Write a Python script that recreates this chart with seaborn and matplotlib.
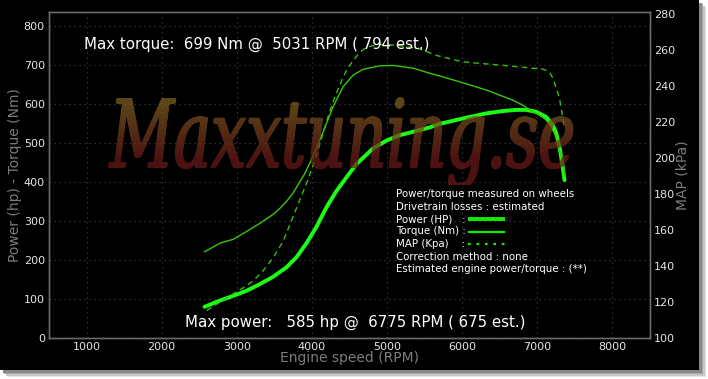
import numpy as np
import pandas as pd
import matplotlib
matplotlib.use("Agg")
import matplotlib.pyplot as plt
import seaborn as sns
from matplotlib.textpath import TextPath
from matplotlib.font_manager import FontProperties
from matplotlib.patches import PathPatch, Rectangle
from matplotlib.transforms import Affine2D
from matplotlib.path import Path

# ---------------- data ----------------
rpm_power = [2570, 2774, 2951, 3129, 3306, 3483, 3660, 3794, 3927, 4060, 4193, 4326,
             4460, 4592, 4813, 4990, 5168, 5390, 5566, 5699, 5965, 6320, 6541, 6719,
             6852, 6985, 7118, 7206, 7251, 7295, 7331, 7362]
power_hp = [80, 96, 108, 121, 138, 157, 181, 207, 243, 285, 335, 377,
            412, 446, 486, 506, 520, 531, 540, 549, 561, 576, 582, 585,
            585, 580, 567, 546, 525, 490, 448, 405]

rpm_torque = [2570, 2774, 2951, 3129, 3306, 3483, 3572, 3660, 3750, 3830, 3900, 3971, 4060,
              4148, 4281, 4414, 4547, 4680, 4902, 5080, 5346, 5566, 5699, 5965, 6320,
              6674, 6807, 6940, 7029, 7118, 7184, 7251, 7295, 7340, 7370]
torque_nm = [221, 243, 253, 273, 294, 317, 332, 350, 372, 398, 420, 448, 487,
             528, 593, 644, 674, 689, 698, 699, 692, 679, 672, 657, 636,
             610, 597, 580, 572, 559, 542, 516, 482, 448, 414]

rpm_map = [2600, 2774, 2951, 3084, 3220, 3350, 3483, 3616, 3705, 3794, 3860, 3930,
           4015, 4100, 4193, 4280, 4370, 4459, 4547, 4636, 4725, 4900, 5150, 5430,
           5655, 6010, 6540, 7070, 7130, 7170, 7210, 7250, 7295, 7320, 7340, 7362]
map_kpa = [115.3, 119.9, 124.5, 127.8, 131.8, 137.3, 144.5, 153.7, 162.8, 172.0, 179.0, 186.0,
           196.0, 207.0, 220.0, 231.0, 240.5, 248.5, 254.0, 258.5, 261.5, 263.0, 262.5, 260.5,
           256.9, 253.3, 251.4, 249.3, 248.4, 247.0, 244.0, 239.0, 233.0, 227.0, 222.5, 216.5]

x_ticks = [1000, 2000, 3000, 4000, 5000, 6000, 7000, 8000]
left_ticks = [0, 100, 200, 300, 400, 500, 600, 700, 800]
right_ticks = [100, 120, 140, 160, 180, 200, 220, 240, 260, 280]

title_torque = "Max torque:  699 Nm @  5031 RPM ( 794 est.)"
title_power = "Max power:   585 hp @  6775 RPM ( 675 est.)"
legend_lines = ["Power/torque measured on wheels",
                "Drivetrain losses : estimated",
                "Power (HP)   :",
                "Torque (Nm) :",
                "MAP (Kpa)    :",
                "Correction method : none",
                "Estimated engine power/torque : (**)"]
watermark = "Maxxtuning.se"

df_p = pd.DataFrame({"rpm": rpm_power, "power": power_hp})
df_t = pd.DataFrame({"rpm": rpm_torque, "torque": torque_nm})
df_m = pd.DataFrame({"rpm": rpm_map, "map": map_kpa})

# ---------------- style ----------------
sns.set_theme(style="dark")
plt.rcParams["font.family"] = ["DejaVu Sans"]

W, H = 708, 379
fig = plt.figure(figsize=(W / 100, H / 100), dpi=100)
fig.patch.set_facecolor("white")

# drop shadow + black panel
for i, c in enumerate(["#e4e4e4", "#c8c8c8", "#a8a8a8", "#888888"]):
    off = 7 - i * 1.5
    fig.patches.append(Rectangle((off / W, -(off - 9) / H), 699 / W, 370 / H,
                                 transform=fig.transFigure, facecolor=c, edgecolor="none", zorder=-10 + i))
fig.patches.append(Rectangle((0, 9 / H), 699 / W, 370 / H, transform=fig.transFigure,
                             facecolor="black", edgecolor="none", zorder=-2))

L, R, T, B = 49, 650, 12, 338
ax = fig.add_axes([L / W, (H - B) / H, (R - L) / W, (B - T) / H])
ax.set_facecolor("black")
ax2 = ax.twinx()

power_c = "#1cff14"
torque_c = "#36c80a"
map_c = "#36c00a"

sns.lineplot(data=df_p, x="rpm", y="power", ax=ax, color=power_c, linewidth=2.8, zorder=5)
sns.lineplot(data=df_t, x="rpm", y="torque", ax=ax, color=torque_c, linewidth=1.0, zorder=5)
sns.lineplot(data=df_m, x="rpm", y="map", ax=ax2, color=map_c, linewidth=1.0,
             linestyle=(0, (4, 3)), zorder=5)

ax.set_xlim(500, 8500)
ax.set_ylim(0, 836)
ax2.set_ylim(100, 281)
ax.set_xticks(x_ticks)
ax.set_yticks(left_ticks)
ax2.set_yticks(right_ticks)

tick_c = "#e6e6e6"
lab_c = "#7c7c7c"
for a in (ax, ax2):
    a.tick_params(colors=tick_c, labelsize=8, length=0, pad=3)
    for s in a.spines.values():
        s.set_color("#6a6a6a")
        s.set_linewidth(1.0)
ax.grid(True, color="#3c3c3c", linestyle=(0, (1, 3)), linewidth=0.9)
ax2.grid(False)
ax.set_axisbelow(True)

ax.set_xlabel("Engine speed (RPM)", color=lab_c, fontsize=10, labelpad=-1)
ax.set_ylabel("Power (hp) - Torque (Nm)", color=lab_c, fontsize=10, labelpad=1)
ax2.set_ylabel("MAP (kPa)", color=lab_c, fontsize=10, labelpad=0)

# ---------------- overlay (pixel coordinates) ----------------
ov = fig.add_axes([0, 0, 1, 1], zorder=10)
ov.set_xlim(0, W)
ov.set_ylim(H, 0)
ov.axis("off")
ov.patch.set_alpha(0)

# watermark with vertical gradient (slightly emboldened by overlaid offsets)
fp = FontProperties(family="DejaVu Serif", style="italic", weight="normal")
tp = TextPath((0, 0), watermark, size=100, prop=fp)
mext = TextPath((0, 0), "M", size=100, prop=fp).get_extents()
ext = tp.get_extents()
cap = mext.y1
sx = (571 - 108) / (ext.x1 - ext.x0)
sy = (167 - 98) / cap
base = Affine2D().translate(-ext.x0, 0).scale(sx, -sy).translate(108, 167)
parts = []
for dx, dy in [(0, 0), (1.2, 0), (2.4, 0), (0.6, 0.8), (1.8, 0.8)]:
    parts.append((base + Affine2D().translate(dx, dy)).transform_path(tp))
wpath = Path.make_compound_path(*parts)
patch = PathPatch(wpath, facecolor="none", edgecolor="none", transform=ov.transData)
ov.add_patch(patch)
n = 64
top = np.array([0.50, 0.40, 0.13])
bot = np.array([0.42, 0.10, 0.10])
frac = np.clip((np.linspace(90, 185, n) - 100) / 60, 0, 1)[:, None]
grad = top * (1 - frac) + bot * frac
img = np.concatenate([grad, np.full((n, 1), 0.72)], axis=1).reshape(n, 1, 4)
im = ov.imshow(img, extent=(90, 640, 185, 90), origin="upper", aspect="auto",
               interpolation="bilinear", zorder=1)
im.set_clip_path(patch)
ov.set_xlim(0, W)
ov.set_ylim(H, 0)

ov.text(84, 44, title_torque, color="white", fontsize=10.8, va="center", ha="left", zorder=3)
ov.text(185, 322, title_power, color="white", fontsize=10.8, va="center", ha="left", zorder=3)

y0 = 194
for i, s in enumerate(legend_lines):
    ov.text(396, y0 + i * 12.5, s, color="white", fontsize=7.4, va="center", ha="left", zorder=3)
ov.plot([468, 505], [y0 + 2 * 12.5] * 2, color="#11ee00", lw=2.8, solid_capstyle="butt", zorder=3)
ov.plot([468, 505], [y0 + 3 * 12.5] * 2, color="#11ee00", lw=1.6, solid_capstyle="butt", zorder=3)
ov.plot([468, 510], [y0 + 4 * 12.5] * 2, color="#11ee00", lw=1.6, linestyle=(0, (1.2, 2.6)), zorder=3)

fig.savefig("out.png", dpi=100, facecolor=fig.get_facecolor())
